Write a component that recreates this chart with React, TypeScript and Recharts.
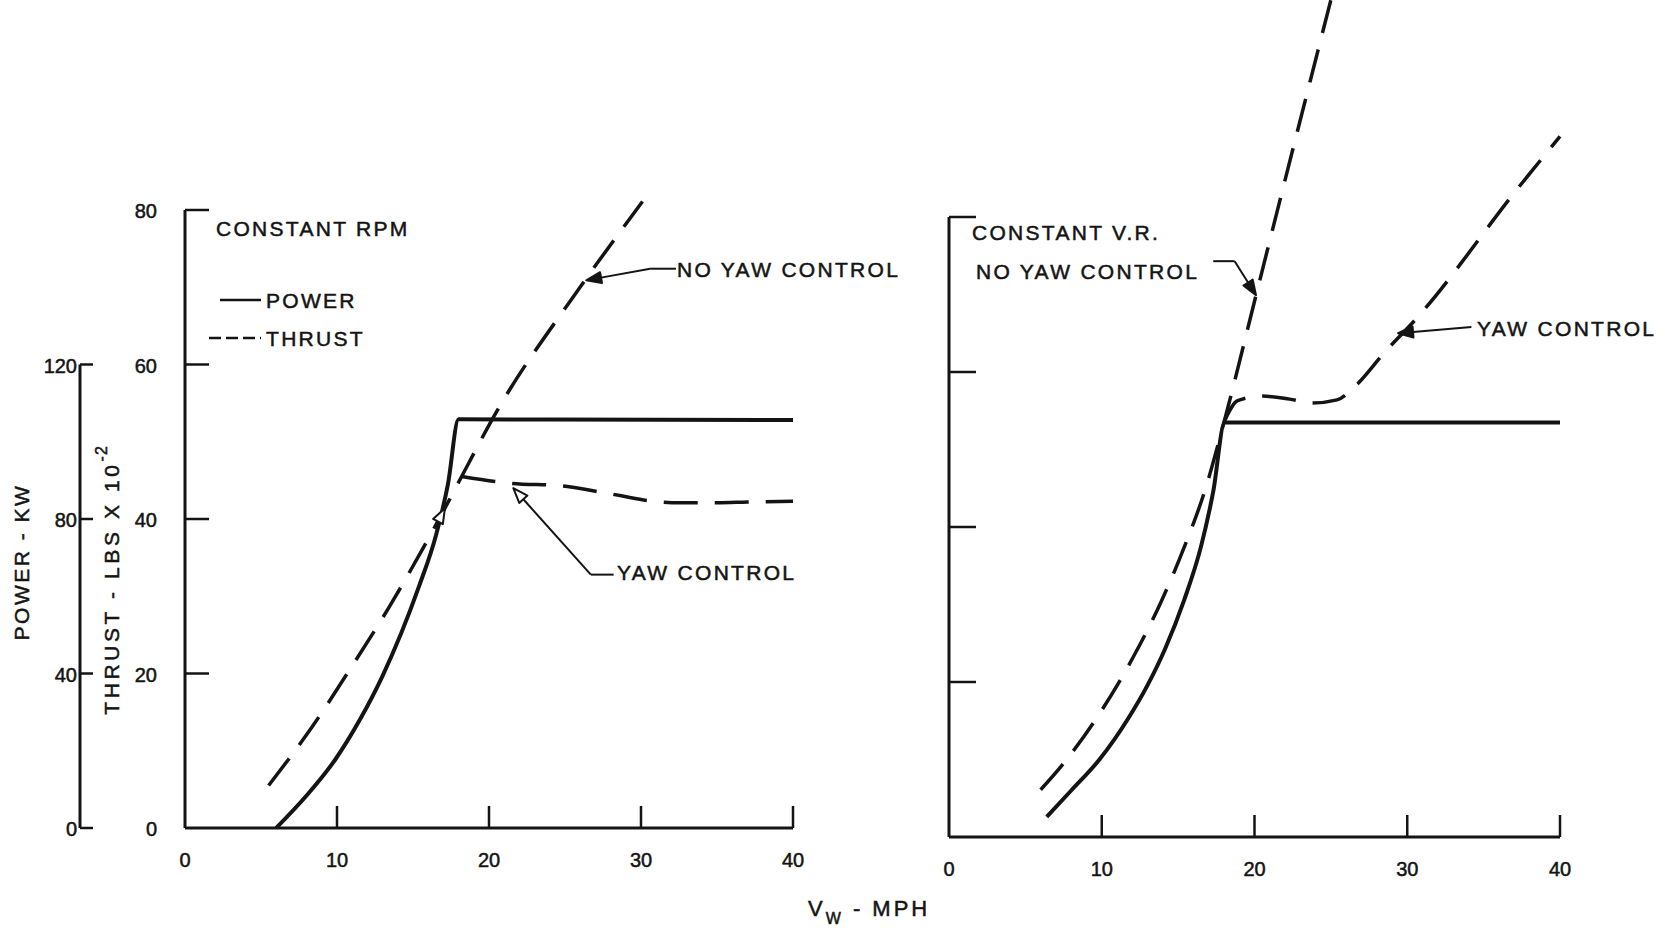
import React from 'react';
import { LineChart, Line, XAxis, YAxis, ReferenceLine } from 'recharts';

const INK = '#141414';
const FONT = '"Liberation Sans", Arial, Helvetica, sans-serif';

// shared scales
const mphTicks = [0, 10, 20, 30, 40];
const thrustTicks = [0, 20, 40, 60, 80];
const powerTicks = [0, 40, 80, 120];

// constant RPM panel — power in kW, thrust in lbs x 10^-2
const rpmPower = [
  { mph: 6.0, v: 0 },
  { mph: 8.0, v: 8.4 },
  { mph: 9.9, v: 17.8 },
  { mph: 11.5, v: 28.0 },
  { mph: 13.0, v: 39.4 },
  { mph: 15.4, v: 62.6 },
  { mph: 16.5, v: 75.6 },
  { mph: 17.3, v: 89.0 },
  { mph: 18.0, v: 105.8 },
  { mph: 40.0, v: 105.6 },
];
const rpmThrustNoYaw = [
  { mph: 5.5, v: 5.5 },
  { mph: 8.4, v: 13.2 },
  { mph: 11.0, v: 21.0 },
  { mph: 13.4, v: 28.5 },
  { mph: 15.6, v: 36.0 },
  { mph: 17.4, v: 42.5 },
  { mph: 18.2, v: 45.5 },
  { mph: 20.5, v: 53.9 },
  { mph: 25.7, v: 69.2 },
  { mph: 30.1, v: 81.1 },
];
const rpmThrustYaw = [
  { mph: 18.2, v: 45.5 },
  { mph: 21.5, v: 44.6 },
  { mph: 24.8, v: 44.3 },
  { mph: 27.0, v: 43.6 },
  { mph: 28.7, v: 43.0 },
  { mph: 30.4, v: 42.4 },
  { mph: 32.6, v: 42.1 },
  { mph: 35.0, v: 42.1 },
  { mph: 37.0, v: 42.2 },
  { mph: 40.0, v: 42.3 },
];

// constant V.R. panel
const vrPower = [
  { mph: 6.4, v: 5.2 },
  { mph: 8.0, v: 12.0 },
  { mph: 9.85, v: 20.0 },
  { mph: 11.7, v: 30.4 },
  { mph: 13.0, v: 39.2 },
  { mph: 14.15, v: 48.6 },
  { mph: 15.4, v: 61.2 },
  { mph: 16.5, v: 75.0 },
  { mph: 17.3, v: 89.2 },
  { mph: 18.05, v: 107.0 },
  { mph: 40.0, v: 107.0 },
];
const vrThrustNoYaw = [
  { mph: 6.0, v: 6.1 },
  { mph: 7.5, v: 9.5 },
  { mph: 9.85, v: 15.9 },
  { mph: 12.0, v: 23.0 },
  { mph: 13.85, v: 30.2 },
  { mph: 15.4, v: 37.4 },
  { mph: 16.8, v: 45.0 },
  { mph: 18.0, v: 53.5 },
  { mph: 20.15, v: 70.3 },
  { mph: 21.85, v: 83.6 },
  { mph: 25.0, v: 108.0 },
];
const vrThrustYaw = [
  { mph: 18.0, v: 53.5 },
  { mph: 18.9, v: 56.3 },
  { mph: 20.5, v: 56.9 },
  { mph: 22.3, v: 56.5 },
  { mph: 23.8, v: 56.0 },
  { mph: 25.4, v: 56.4 },
  { mph: 26.6, v: 58.2 },
  { mph: 28.5, v: 62.5 },
  { mph: 30.6, v: 66.9 },
  { mph: 37.4, v: 84.1 },
  { mph: 40.0, v: 90.4 },
];

// annotation leaders, in chart units
const rpmNoYawStub = [{ x: 32.3, y: 72.4 }, { x: 30.6, y: 72.4 }];
const rpmNoYawArrow = [{ x: 30.6, y: 72.4 }, { x: 26.4, y: 70.9 }];
const rpmYawStub = [{ x: 28.2, y: 32.8 }, { x: 26.7, y: 32.8 }];
const rpmYawArrow = [{ x: 26.7, y: 32.8 }, { x: 21.6, y: 44.0 }];
const rpmFlowArrow = [{ x: 16.2, y: 38.0 }, { x: 17.1, y: 41.4 }];
const vrNoYawStub = [{ x: 17.3, y: 74.3 }, { x: 18.7, y: 74.3 }];
const vrNoYawArrow = [{ x: 18.7, y: 74.3 }, { x: 20.1, y: 69.9 }];
const vrYawArrow = [{ x: 34.2, y: 65.8 }, { x: 29.4, y: 65.0 }];

const LEFT = { width: 820, height: 890, top: 179.1, right: 27, xAxisH: 62, thrustW: 105, powerW: 80 };
const RIGHT = { x: 850, width: 740, height: 900, right: 30, xAxisH: 63, thrustW: 99 };
const leftPlotW = LEFT.width - LEFT.right - LEFT.thrustW - LEFT.powerW;
const powerAxisMph = -LEFT.thrustW / (leftPlotW / 40);

const DASH = '34 17';

const xTick = (props: any) => {
  const { x, y, payload } = props;
  return (
    <g>
      {payload.value > 0 && <line x1={x} y1={y} x2={x} y2={y - 22} stroke={INK} strokeWidth={2.5} />}
      <text
        x={x}
        y={y + 32}
        textAnchor="middle"
        dominantBaseline="central"
        fontSize={20}
        fontFamily={FONT}
        fill={INK}
        stroke={INK}
        strokeWidth={0.5}
      >
        {payload.value}
      </text>
    </g>
  );
};

const yTick = (len: number, labelGap: number | null, withZero: boolean) => (props: any) => {
  const { x, y, payload } = props;
  return (
    <g>
      {(withZero || payload.value > 0) && <line x1={x} y1={y} x2={x + len} y2={y} stroke={INK} strokeWidth={2.5} />}
      {labelGap !== null && (
        <text
          x={x - labelGap}
          y={y + 1}
          textAnchor="end"
          dominantBaseline="central"
          fontSize={20}
          fontFamily={FONT}
          fill={INK}
          stroke={INK}
          strokeWidth={0.5}
        >
          {payload.value}
        </text>
      )}
    </g>
  );
};

const arrowShape = (hollow: boolean, shaft = true) => (p: any) => {
  const { x1, y1, x2, y2 } = p;
  const a = Math.atan2(y2 - y1, x2 - x1);
  const len = 15;
  const half = 5.5;
  const bx = x2 - len * Math.cos(a);
  const by = y2 - len * Math.sin(a);
  const nx = -Math.sin(a) * half;
  const ny = Math.cos(a) * half;
  return (
    <g>
      {shaft && <line x1={x1} y1={y1} x2={bx} y2={by} stroke={INK} strokeWidth={2} />}
      <polygon
        points={`${x2},${y2} ${bx + nx},${by + ny} ${bx - nx},${by - ny}`}
        fill={hollow ? '#fff' : INK}
        stroke={INK}
        strokeWidth={2}
        strokeLinejoin="round"
      />
    </g>
  );
};

const txt = { fontFamily: FONT, fontSize: 21, letterSpacing: 2.3, fill: INK, stroke: INK, strokeWidth: 0.5 } as const;

export default function App() {
  return (
    <div style={{ position: 'relative', width: 1669, height: 934, background: '#fff', overflow: 'hidden' }}>
      <style>{'body{margin:0}'}</style>

      <div style={{ position: 'absolute', left: 0, top: 0 }}>
        <LineChart width={LEFT.width} height={LEFT.height} margin={{ top: LEFT.top, right: LEFT.right, bottom: 0, left: 0 }}>
          <XAxis
            dataKey="mph"
            type="number"
            domain={[0, 40]}
            ticks={mphTicks}
            interval={0}
            height={LEFT.xAxisH}
            tickSize={0}
            tickMargin={0}
            tickLine={false}
            tick={xTick}
            axisLine={{ stroke: INK, strokeWidth: 3 }}
          />
          <YAxis
            yAxisId="b"
            type="number"
            domain={[0, 168]}
            ticks={powerTicks}
            interval={0}
            width={LEFT.powerW}
            tickSize={0}
            tickMargin={0}
            tickLine={false}
            axisLine={false}
            tick={yTick(13, 3, true)}
          />
          <YAxis
            yAxisId="a"
            type="number"
            domain={[0, 84]}
            ticks={thrustTicks}
            interval={0}
            width={LEFT.thrustW}
            tickSize={0}
            tickMargin={0}
            tickLine={false}
            axisLine={false}
            tick={yTick(24, 28, false)}
          />
          <ReferenceLine yAxisId="a" segment={[{ x: 0, y: 0 }, { x: 0, y: 80 }]} stroke={INK} strokeWidth={3} ifOverflow="visible" />
          <ReferenceLine
            yAxisId="b"
            segment={[{ x: powerAxisMph, y: 0 }, { x: powerAxisMph, y: 120 }]}
            stroke={INK}
            strokeWidth={3}
            ifOverflow="visible"
          />
          <Line yAxisId="b" data={rpmPower} dataKey="v" type="monotone" stroke={INK} strokeWidth={4} dot={false} isAnimationActive={false} />
          <Line yAxisId="a" data={rpmThrustNoYaw} dataKey="v" type="monotone" stroke={INK} strokeWidth={3.5} strokeDasharray={DASH} dot={false} isAnimationActive={false} />
          <Line yAxisId="a" data={rpmThrustYaw} dataKey="v" type="monotone" stroke={INK} strokeWidth={3.5} strokeDasharray={DASH} dot={false} isAnimationActive={false} />
          <ReferenceLine yAxisId="a" segment={rpmNoYawStub} stroke={INK} strokeWidth={2} ifOverflow="visible" />
          <ReferenceLine yAxisId="a" segment={rpmNoYawArrow} ifOverflow="visible" shape={arrowShape(false)} />
          <ReferenceLine yAxisId="a" segment={rpmYawStub} stroke={INK} strokeWidth={2} ifOverflow="visible" />
          <ReferenceLine yAxisId="a" segment={rpmYawArrow} ifOverflow="visible" shape={arrowShape(true)} />
          <ReferenceLine yAxisId="a" segment={rpmFlowArrow} ifOverflow="visible" shape={arrowShape(true, false)} />
        </LineChart>
      </div>

      <div style={{ position: 'absolute', left: RIGHT.x, top: 0 }}>
        <LineChart width={RIGHT.width} height={RIGHT.height} margin={{ top: 0, right: RIGHT.right, bottom: 0, left: 0 }}>
          <XAxis
            dataKey="mph"
            type="number"
            domain={[0, 40]}
            ticks={mphTicks}
            interval={0}
            height={RIGHT.xAxisH}
            tickSize={0}
            tickMargin={0}
            tickLine={false}
            tick={xTick}
            axisLine={{ stroke: INK, strokeWidth: 3 }}
          />
          <YAxis yAxisId="b" type="number" domain={[0, 216]} width={0} hide />
          <YAxis
            yAxisId="a"
            type="number"
            domain={[0, 108]}
            ticks={thrustTicks}
            interval={0}
            width={RIGHT.thrustW}
            tickSize={0}
            tickMargin={0}
            tickLine={false}
            axisLine={false}
            tick={yTick(27, null, false)}
          />
          <ReferenceLine yAxisId="a" segment={[{ x: 0, y: 0 }, { x: 0, y: 80 }]} stroke={INK} strokeWidth={3} ifOverflow="visible" />
          <Line yAxisId="b" data={vrPower} dataKey="v" type="monotone" stroke={INK} strokeWidth={4} dot={false} isAnimationActive={false} />
          <Line yAxisId="a" data={vrThrustNoYaw} dataKey="v" type="monotone" stroke={INK} strokeWidth={3.5} strokeDasharray={DASH} dot={false} isAnimationActive={false} />
          <Line yAxisId="a" data={vrThrustYaw} dataKey="v" type="monotone" stroke={INK} strokeWidth={3.5} strokeDasharray={DASH} dot={false} isAnimationActive={false} />
          <ReferenceLine yAxisId="a" segment={vrNoYawStub} stroke={INK} strokeWidth={2} ifOverflow="visible" />
          <ReferenceLine yAxisId="a" segment={vrNoYawArrow} ifOverflow="visible" shape={arrowShape(false)} />
          <ReferenceLine yAxisId="a" segment={vrYawArrow} ifOverflow="visible" shape={arrowShape(false)} />
        </LineChart>
      </div>

      <svg width={1669} height={934} style={{ position: 'absolute', left: 0, top: 0, pointerEvents: 'none' }}>
        <g dominantBaseline="central">
          <text x={216} y={228} {...txt}>CONSTANT RPM</text>
          <line x1={220} y1={300} x2={261} y2={300} stroke={INK} strokeWidth={2.5} />
          <text x={266} y={300} {...txt}>POWER</text>
          <line x1={209} y1={338} x2={261} y2={338} stroke={INK} strokeWidth={2.5} strokeDasharray="12 5" />
          <text x={266} y={338} {...txt}>THRUST</text>
          <text x={677} y={269} {...txt}>NO YAW CONTROL</text>
          <text x={617} y={572} {...txt}>YAW CONTROL</text>

          <text x={972} y={232} {...txt}>CONSTANT V.R.</text>
          <text x={976} y={271} {...txt}>NO YAW CONTROL</text>
          <text x={1477} y={328} {...txt}>YAW CONTROL</text>

          <text x={21} y={562} transform="rotate(-90 21 562)" textAnchor="middle" {...txt} letterSpacing={2.5}>
            POWER - KW
          </text>
          <text x={111} y={580} transform="rotate(-90 111 580)" textAnchor="middle" {...txt} letterSpacing={3.6}>
            THRUST - LBS X 10
            <tspan dy={-10} fontSize={16} letterSpacing={1}>-2</tspan>
          </text>
          <text x={808} y={908} {...txt} fontSize={22} letterSpacing={3}>
            V<tspan dy={10} fontSize={16}>W</tspan>
            <tspan dy={-10}> - MPH</tspan>
          </text>
        </g>
      </svg>
    </div>
  );
}
